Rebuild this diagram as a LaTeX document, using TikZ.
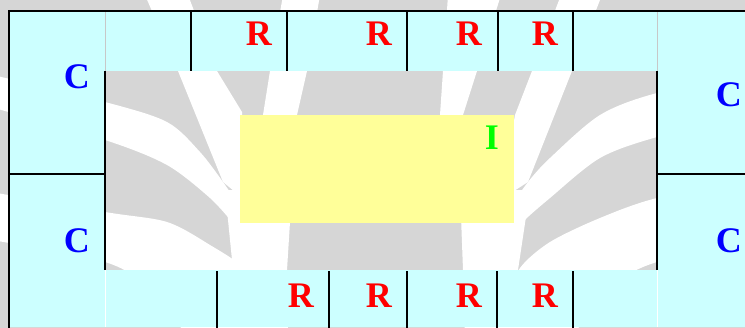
\documentclass[tikz,border=0pt]{standalone}
\usepackage{fontspec}
\setmainfont{Liberation Serif}
\definecolor{bggray}{RGB}{214,214,214}
\definecolor{cellcyan}{RGB}{204,255,255}
\definecolor{boxyellow}{RGB}{255,255,153}
\definecolor{igreen}{RGB}{0,255,0}
\definecolor{faintgray}{RGB}{200,200,200}
\tikzset{
  lbl/.style={inner sep=0pt, anchor=base east, font=\fontsize{36}{36}\selectfont\bfseries},
  rlbl/.style={lbl, text=red},
  clbl/.style={lbl, text=blue},
  ilbl/.style={lbl, text=igreen},
  frameline/.style={line width=2pt, draw=black},
  faintline/.style={line width=0.8pt, draw=faintgray},
  whiteline/.style={line width=0.8pt, draw=white},
  cell/.style={fill=cellcyan},
  band/.style={fill=white}
}
\begin{document}
\begin{tikzpicture}[x=1pt,y=-1pt]
\useasboundingbox (0,0) rectangle (745,327);
% watermark background
\begin{scope}
\clip (0,0) rectangle (745,327);
\fill[bggray] (-5,-5) rectangle (750,332);
% left tree
\fill[band] plot[smooth] coordinates {(-20,72) (105,102) (167,122) (200,152) (223,182) (235,200)}
  -- plot[smooth] coordinates {(232,222) (210,198) (167,165) (105,140) (-20,104)} -- cycle;
\fill[band] plot[smooth] coordinates {(-20,190) (105,212) (167,222) (210,245) (243,268) (255,300) (258,340)}
  -- plot[smooth] coordinates {(190,340) (150,290) (105,262) (-20,238)} -- cycle;
\fill[band] (145,-5) -- (178,71) -- (223,182) -- (245,200) -- (242,112) -- (217,71) -- (188,-5) -- cycle;
\fill[band] (283,-5) -- (270,71) -- (263,115) -- (245,200) -- (290,200) -- (297,115) -- (307,71) -- (320,-5) -- cycle;
\fill[band] (225,190) -- (292,190) -- (287,270) -- (288,340) -- (232,340) -- (233,270) -- cycle;
% right tree
\fill[band] plot[smooth] coordinates {(760,72) (657,93) (600,115) (550,158) (528,182) (512,205)}
  -- plot[smooth] coordinates {(505,250) (520,225) (550,198) (600,158) (657,137) (760,112)} -- cycle;
\fill[band] plot[smooth] coordinates {(760,178) (657,198) (600,218) (550,242) (520,268) (508,300) (505,340)}
  -- plot[smooth] coordinates {(570,340) (610,288) (657,262) (760,243)} -- cycle;
\fill[band] (561,-5) -- (532,71) -- (515,115) -- (500,200) -- (528,182) -- (572,71) -- (602,-5) -- cycle;
\fill[band] (448,-5) -- (443,71) -- (440,115) -- (460,200) -- (500,200) -- (463,115) -- (477,71) -- (501,-5) -- cycle;
\fill[band] (460,190) -- (530,190) -- (518,270) -- (512,340) -- (465,340) -- (463,270) -- cycle;
\end{scope}
% cyan frame cells
\fill[cell] (9,11) rectangle (745,71);
\fill[cell] (9,11) rectangle (105,327);
\fill[cell] (657,11) rectangle (745,327);
\fill[cell] (9,270) rectangle (745,327);
% yellow box
\fill[boxyellow] (240,115) rectangle (514,223);
% faint separators
\draw[faintline] (105,11) -- (105,71);
\draw[faintline] (657,11) -- (657,71);
\draw[whiteline] (105,270) -- (105,327);
\draw[whiteline] (657,270) -- (657,327);
% black lines
\draw[frameline] (9,328) -- (9,11) -- (746,11);
\foreach \x in {191,287,407,498,573} \draw[frameline] (\x,11) -- (\x,71);
\draw[frameline] (105,71) -- (105,270);
\draw[frameline] (657,71) -- (657,270);
\draw[frameline] (9,174) -- (105,174);
\draw[frameline] (657,174) -- (746,174);
\foreach \x in {217,329,407,497,573} \draw[frameline] (\x,271) -- (\x,328);
% labels
\node[rlbl] (rt1) at (272,45) {R};
\node[rlbl] (rt2) at (392,45) {R};
\node[rlbl] (rt3) at (482,45) {R};
\node[rlbl] (rt4) at (558,45) {R};
\node[rlbl] (rb1) at (314,307) {R};
\node[rlbl] (rb2) at (392,307) {R};
\node[rlbl] (rb3) at (482,307) {R};
\node[rlbl] (rb4) at (558,307) {R};
\node[clbl] (cl1) at (90,88) {C};
\node[clbl] (cl2) at (90,252) {C};
\node[clbl] (cr1) at (742,106) {C};
\node[clbl] (cr2) at (742,252) {C};
\node[ilbl] (ii) at (499,149) {I};
\end{tikzpicture}
\end{document}
